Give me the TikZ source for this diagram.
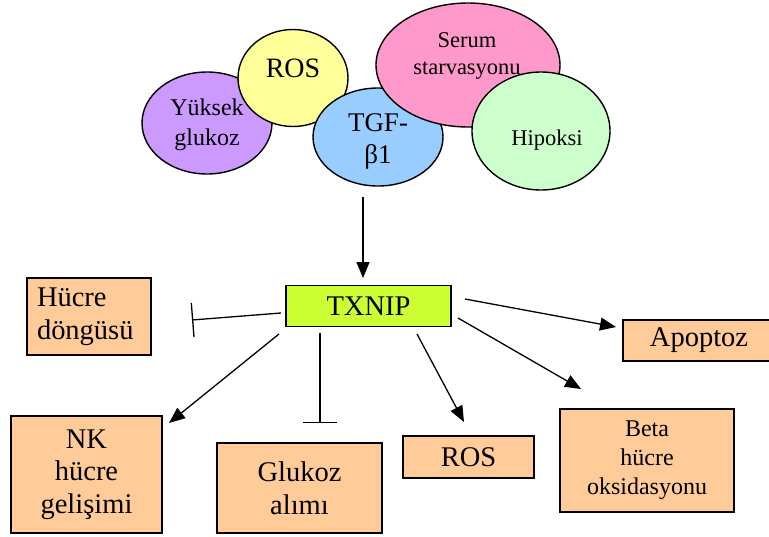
\documentclass[tikz,border=0pt]{standalone}
\usepackage{fontspec}
\setmainfont{Liberation Serif}
\usetikzlibrary{arrows.meta,shapes.geometric}
\definecolor{boxfill}{HTML}{FFCC99}
\definecolor{txfill}{HTML}{CCFF33}
\definecolor{purp}{HTML}{CC99FF}
\definecolor{yell}{HTML}{FFFF99}
\definecolor{blu}{HTML}{99CCFF}
\definecolor{pnk}{HTML}{FF99CC}
\definecolor{grn}{HTML}{CCFFCC}
\begin{document}
\begin{tikzpicture}[x=1pt,y=-1pt,
  blob/.style={ellipse,draw=black,line width=1.4pt,inner sep=0pt},
  box/.style={rectangle,draw=black,line width=1.6pt,fill=boxfill,inner sep=0pt,align=center},
  lbl/.style={align=center,inner sep=0pt},
  big/.style={font=\fontsize{28.5}{32.5}\selectfont},
  mid/.style={font=\fontsize{24}{30}\selectfont},
  sml/.style={font=\fontsize{22.5}{27}\selectfont},
  act/.style={line width=1.3pt,-{Triangle[length=16pt,width=13pt]}},
  inh/.style={line width=1.3pt,-{Bar[width=34pt]}}]
\useasboundingbox (0,0) rectangle (769,536);
\clip (0,0) rectangle (769,536);
% ellipses
\node[blob,fill=purp,minimum width=130pt,minimum height=102pt] (yuk) at (207,123) {};
\node[blob,fill=yell,minimum width=110pt,minimum height=97pt] (ros1) at (293,78) {};
\node[blob,fill=blu,minimum width=130pt,minimum height=98pt] (tgf) at (378,137) {};
\node[blob,fill=pnk,minimum width=184pt,minimum height=124pt] (ser) at (468,65) {};
\node[blob,fill=grn,minimum width=138pt,minimum height=118pt] (hip) at (541,131) {};
% ellipse labels
\node[lbl,mid] (yukt) at (207,125) {Yüksek\\glukoz};
\node[lbl,font=\fontsize{28}{32}\selectfont] (ros1t) at (293,68) {ROS};
\node[lbl,font=\fontsize{27}{32}\selectfont] (tgft) at (378,141) {TGF-\\β1};
\node[lbl,sml] (sert) at (467,56) {Serum\\starvasyonu};
\node[lbl,sml] (hipt) at (547,140) {Hipoksi};
% boxes
\node[box,big,fill=txfill,minimum width=165pt,minimum height=41pt] (tx) at (368.5,306) {TXNIP};
\node[box,big,minimum width=124pt,minimum height=77pt,text width=104pt,align=left] (hd) at (89,316.5) {Hücre\\döngüsü};
\node[box,big,minimum width=152pt,minimum height=41pt] (apo) at (699,340.5) {Apoptoz};
\node[box,big,minimum width=151pt,minimum height=117pt] (nk) at (86.5,474.5) {NK\\hücre\\gelişimi};
\node[box,big,minimum width=165pt,minimum height=90pt] (glu) at (299.5,488) {Glukoz\\alımı};
\node[box,big,minimum width=131pt,minimum height=42pt] (ros2) at (468.5,457) {ROS};
\node[box,font=\fontsize{24}{29}\selectfont,minimum width=174pt,minimum height=103pt] (beta) at (647,460.5) {Beta\\hücre\\oksidasyonu};
% connector end points
\coordinate (c0a) at (363,197);
\coordinate (c0b) at (363,278);
\coordinate (c1a) at (281,313);
\coordinate (c1b) at (192,320);
\coordinate (c2a) at (279,334);
\coordinate (c2b) at (169,423);
\coordinate (c3a) at (320,333);
\coordinate (c3b) at (320,423);
\coordinate (c4a) at (417,334);
\coordinate (c4b) at (464,422);
\coordinate (c5a) at (458,318);
\coordinate (c5b) at (581,389);
\coordinate (c6a) at (465,299);
\coordinate (c6b) at (616,327);
% connectors
\draw[act] (c0a) -- (c0b);
\draw[inh] (c1a) -- (c1b);
\draw[act] (c2a) -- (c2b);
\draw[inh] (c3a) -- (c3b);
\draw[act] (c4a) -- (c4b);
\draw[act] (c5a) -- (c5b);
\draw[act] (c6a) -- (c6b);
\end{tikzpicture}
\end{document}
